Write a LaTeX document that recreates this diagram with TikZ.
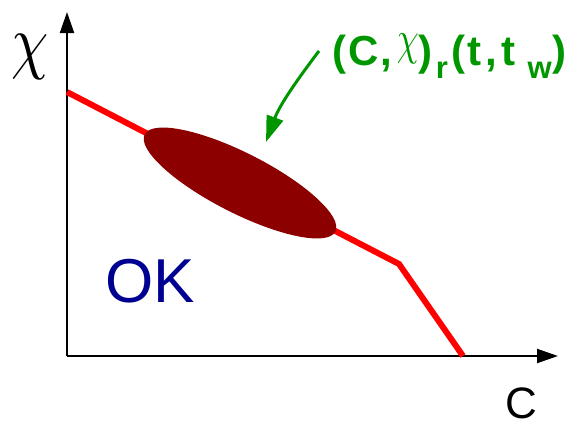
\documentclass[tikz,border=0pt]{standalone}
\usepackage{graphicx}
\usepackage{fontspec}
\setmainfont{Liberation Sans}
\usetikzlibrary{arrows.meta}
\definecolor{curvered}{RGB}{255,0,0}
\definecolor{blobred}{RGB}{140,0,0}
\definecolor{labelgreen}{RGB}{0,150,0}
\definecolor{okblue}{RGB}{0,0,145}
\tikzset{
  axis/.style={line width=2pt,-{Triangle[length=21pt,width=14pt]}},
  curve/.style={line width=6pt,curvered,line join=miter},
  pointer/.style={line width=3pt,labelgreen,-{Triangle[length=26pt,width=17pt]}},
  txt/.style={inner sep=0pt,outer sep=0pt}
}
\begin{document}
\begin{tikzpicture}[x=1pt,y=-1pt]
\useasboundingbox (0,0) rectangle (573,423);
% axes
\coordinate (O) at (67,356);
\coordinate (ytip) at (67,12);
\coordinate (xtip) at (558,356);
\draw[axis] (O) -- (ytip);
\draw[axis] (O) -- (xtip);
% curve
\coordinate (p0) at (67,92);
\coordinate (p1) at (399,264);
\coordinate (p2) at (463,356);
\draw[curve] (p0) -- (p1) -- (p2);
% blob
\fill[blobred,rotate around={-27:(240,183)}] (240,183) ellipse [x radius=107pt,y radius=30pt];
\node[txt] (blob) at (240,183) {};
% labels
\node[txt] (chi) at (30,57) {\scalebox{5.95}[7.2]{$\chi$}};
\node[txt] (cc) at (521,403) {\fontsize{44}{44}\selectfont C};
\node[txt,anchor=base west,okblue] (ok) at (105,302) {\fontsize{62}{62}\selectfont OK};
\node[txt,anchor=base west,labelgreen] (lab) at (332,65) {\fontsize{42}{42}\selectfont\bfseries (\hspace{3pt}C\hspace{1pt},\hspace{5pt}\raisebox{11pt}{\scalebox{3.5}[4.8]{\normalsize$\chi$}})\hspace{3pt}\raisebox{-13pt}{\fontsize{31}{31}\selectfont r}\hspace{4pt}(\hspace{2pt}t\hspace{4pt},\hspace{4pt}t\hspace{12pt}\raisebox{-13pt}{\fontsize{31}{31}\selectfont w}\hspace{1pt})};
% pointer
\coordinate (ps) at (319,51);
\coordinate (pe) at (266,142);
\draw[pointer] (ps) .. controls (300,76) and (280,104) .. (pe);
\end{tikzpicture}
\end{document}
